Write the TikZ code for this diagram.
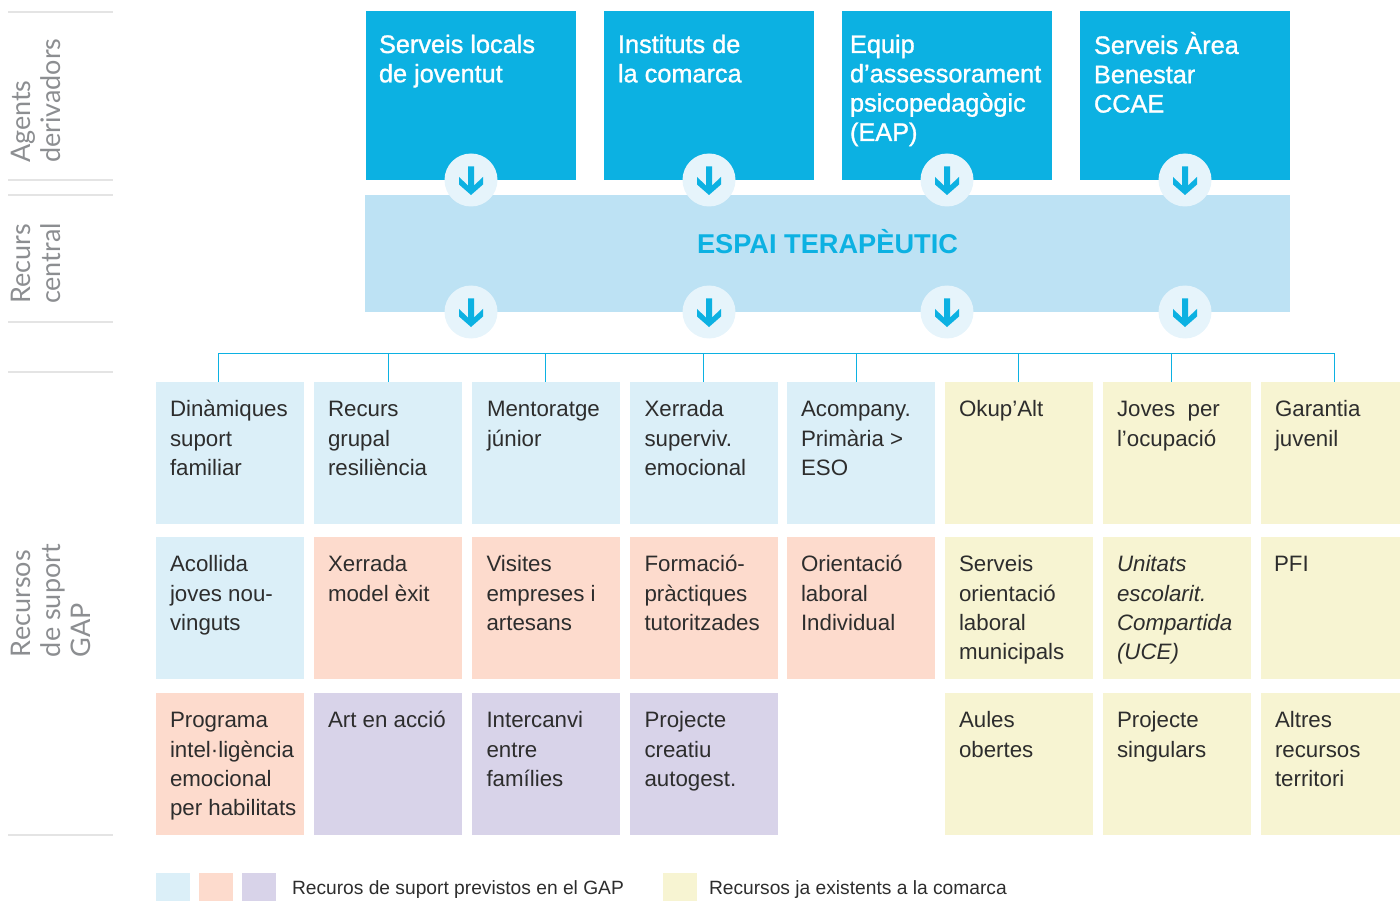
\documentclass[tikz,border=0pt]{standalone}
\usepackage{fontspec}
\setmainfont{Liberation Sans}
\newfontfamily\topfont[FakeBold=1.2]{Liberation Sans}
\newfontfamily\sidefont{Lato}
\definecolor{cyanmain}{HTML}{0CB1E2}
\definecolor{central}{HTML}{BDE2F4}
\definecolor{disc}{HTML}{E6F4FB}
\definecolor{cblue}{HTML}{DBEFF8}
\definecolor{cpeach}{HTML}{FDDBCD}
\definecolor{cpurple}{HTML}{D8D3E9}
\definecolor{cyellow}{HTML}{F7F4D2}
\definecolor{inkdark}{HTML}{2D2D2D}
\definecolor{sidegrey}{HTML}{8C8E91}
\definecolor{rulegrey}{HTML}{E4E4E4}
\tikzset{
  x=1pt,y=-1pt,
  boxnode/.style={anchor=north west,inner sep=0pt,outer sep=0pt},
  celltext/.style={anchor=north west,inner sep=0pt,outer sep=0pt,align=left,text=inkdark,
     font=\fontsize{22.3}{29.4}\selectfont},
  toptext/.style={anchor=north west,inner sep=0pt,outer sep=0pt,align=left,text=white,
     font=\fontsize{25.3}{29.3}\topfont},
  sidetext/.style={rotate=90,anchor=south west,inner sep=0pt,outer sep=0pt,align=left,text=sidegrey,
     font=\fontsize{27}{30}\sidefont},
  siderule/.style={draw=rulegrey,line width=1.4pt},
  disc node/.style={circle,fill=disc,minimum size=53pt,inner sep=0pt,outer sep=0pt},
  bus/.style={draw=cyanmain,line width=1pt},
  legendtext/.style={anchor=base west,inner sep=0pt,outer sep=0pt,text=inkdark,font=\fontsize{19.2}{22}\selectfont},
}
% \gapcell[text inset]{name}{x}{y}{w}{colour}{text}
\newcommand{\gapcell}[7][14]{%
  \node[boxnode,fill=#6,minimum width=#5pt,minimum height=142pt] (#2) at (#3,#4) {};
  \node[celltext] (#2t) at ({#3+#1},{#4+14.7}) {\rule{0pt}{20pt}#7};
}
\newcommand{\topbox}[4]{%
  \node[boxnode,fill=cyanmain,minimum width=210pt,minimum height=169pt] (#1) at (#2,11) {};
  \node[toptext] (#1t) at ({#2+#3},32) {\rule{0pt}{21pt}#4};
}
\newcommand{\arrowdisc}[3]{%
  \node[disc node] (#1) at (#2,#3) {};
  \fill[cyanmain,shift={(#1.center)}] (-3,-13.5) -- (3,-13.5) -- (3,5.5) -- (12,-3) -- (12,4.5) -- (0,15) -- (-12,4.5) -- (-12,-3) -- (-3,5.5) -- cycle;
}
\begin{document}
\begin{tikzpicture}
\useasboundingbox (0,0) rectangle (1400,901);
% side rules
\foreach \n/\yy in {a/12,b/180,c/195,d/322,e/372,f/835}{
  \coordinate (rl\n) at (8,\yy); \coordinate (rr\n) at (113,\yy);
  \draw[siderule] (rl\n) -- (rr\n);
}
\node[sidetext] (sideA) at (60.5,163) {Agents\\derivadors};
\node[sidetext] (sideB) at (60.5,304) {Recurs\\central};
\node[sidetext] (sideC) at (90.5,657) {Recursos\\de suport\\GAP};
% agents
\topbox{agA}{366}{13}{Serveis locals\\de joventut}
\topbox{agB}{604}{14}{Instituts de\\la comarca}
\topbox{agC}{842}{8}{Equip\\d’assessorament\\psicopedagògic\\(EAP)}
\topbox{agD}{1080}{14}{Serveis Àrea\\Benestar\\CCAE}
% central
\node[boxnode,fill=central,minimum width=925pt,minimum height=117pt] (esp) at (365,195) {};
\node[inner sep=0pt,text=cyanmain,font=\fontsize{27.2}{30}\selectfont\bfseries] (espt) at (827.5,241.5) {ESPAI TERAPÈUTIC};
% discs
\arrowdisc{dA}{471}{180}\arrowdisc{dB}{709}{180}\arrowdisc{dC}{947}{180}\arrowdisc{dD}{1185}{180}
\arrowdisc{eA}{471}{312}\arrowdisc{eB}{709}{312}\arrowdisc{eC}{947}{312}\arrowdisc{eD}{1185}{312}
% row 1
\gapcell{aa}{156}{382}{148}{cblue}{Dinàmiques\\suport\\familiar}
\gapcell{ab}{314}{382}{148}{cblue}{Recurs\\grupal\\resiliència}
\gapcell[15]{ac}{472}{382}{148}{cblue}{Mentoratge\\júnior}
\gapcell[14.5]{ad}{630}{382}{148}{cblue}{Xerrada\\superviv.\\emocional}
\gapcell{ae}{787}{382}{148}{cblue}{Acompany.\\Primària >\\ESO}
\gapcell{af}{945}{382}{148}{cyellow}{Okup’Alt}
\gapcell{ag}{1103}{382}{148}{cyellow}{Joves\ \ per\\l’ocupació}
\gapcell{ah}{1261}{382}{139}{cyellow}{Garantia\\juvenil}
% row 2
\gapcell{ba}{156}{537}{148}{cblue}{Acollida\\joves nou-\\vinguts}
\gapcell{bb}{314}{537}{148}{cpeach}{Xerrada\\model èxit}
\gapcell[14.5]{bc}{472}{537}{148}{cpeach}{Visites\\empreses i\\artesans}
\gapcell[14.5]{bd}{630}{537}{148}{cpeach}{Formació-\\pràctiques\\tutoritzades}
\gapcell{be}{787}{537}{148}{cpeach}{Orientació\\laboral\\Individual}
\gapcell{bf}{945}{537}{148}{cyellow}{Serveis\\orientació\\laboral\\municipals}
\gapcell{bg}{1103}{537}{148}{cyellow}{\itshape Unitats\\\itshape escolarit.\\\itshape Compartida\\\itshape (UCE)}
\gapcell[13]{bh}{1261}{537}{139}{cyellow}{PFI}
% row 3
\gapcell{ca}{156}{693}{148}{cpeach}{Programa\\intel·ligència\\emocional\\per habilitats}
\gapcell{cb}{314}{693}{148}{cpurple}{Art en acció}
\gapcell[14.5]{cc}{472}{693}{148}{cpurple}{Intercanvi\\entre\\famílies}
\gapcell[14.5]{cd}{630}{693}{148}{cpurple}{Projecte\\creatiu\\autogest.}
\gapcell{cf}{945}{693}{148}{cyellow}{Aules\\obertes}
\gapcell{cg}{1103}{693}{148}{cyellow}{Projecte\\singulars}
\gapcell{ch}{1261}{693}{139}{cyellow}{Altres\\recursos\\territori}
% tree
\coordinate (busL) at (218,353);
\coordinate (busR) at (1334,353);
\draw[bus] (busL) -- (busR);
\foreach \cname/\xx in {aa/218,ab/388,ac/545,ad/703,ae/856,af/1018,ag/1171,ah/1334}{
  \coordinate (drop\cname) at (\xx,353);
  \draw[bus] (drop\cname) -- (drop\cname |- \cname.north);
}
% legend
\node[boxnode,fill=cblue,minimum width=34pt,minimum height=28pt] (lgA) at (156,873) {};
\node[boxnode,fill=cpeach,minimum width=34pt,minimum height=28pt] (lgB) at (199,873) {};
\node[boxnode,fill=cpurple,minimum width=34pt,minimum height=28pt] (lgC) at (242,873) {};
\node[legendtext] (lgT) at (292,894) {Recuros de suport previstos en el GAP};
\node[boxnode,fill=cyellow,minimum width=34pt,minimum height=28pt] (lgD) at (663,873) {};
\node[legendtext] (lgU) at (709,894) {Recursos ja existents a la comarca};
\end{tikzpicture}
\end{document}
